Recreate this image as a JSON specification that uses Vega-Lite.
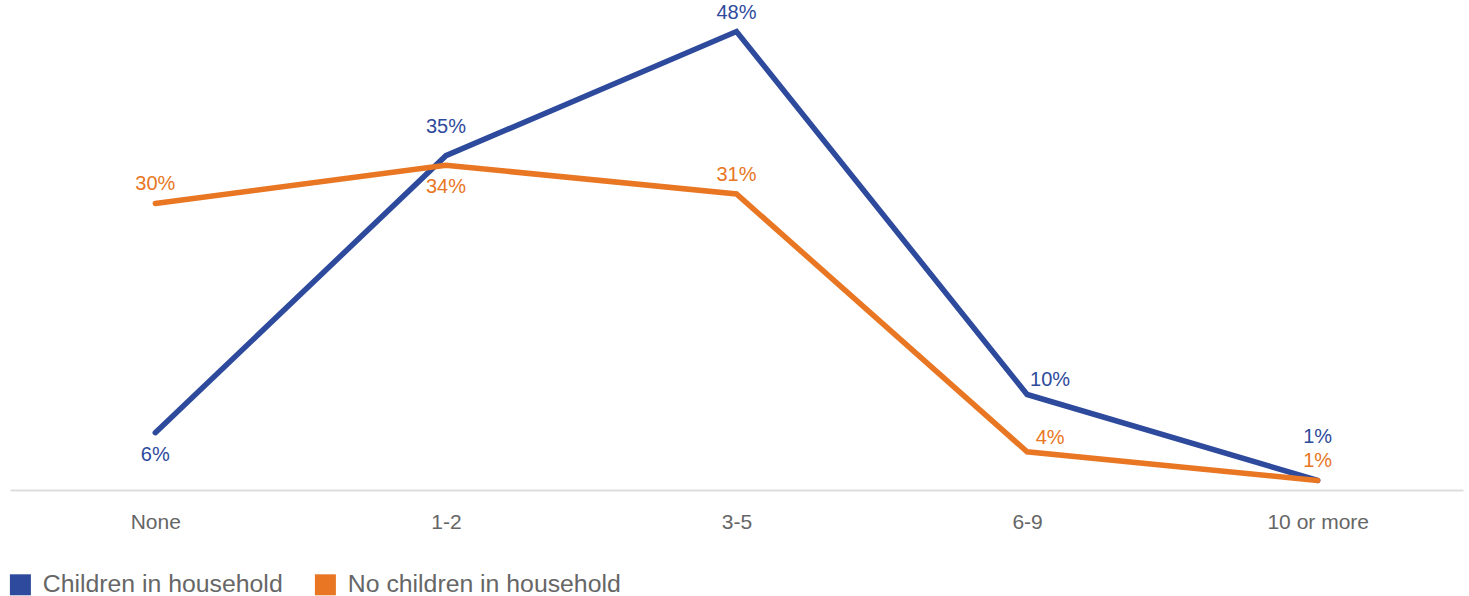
{
  "$schema": "https://vega.github.io/schema/vega-lite/v6.json",
  "width": 1453,
  "height": 490,
  "autosize": "none",
  "padding": {"left": 10, "top": 0, "right": 6, "bottom": 106},
  "background": "white",
  "config": {
    "view": {"stroke": null},
    "font": "Liberation Sans",
    "text": {"font": "Liberation Sans"}
  },
  "data": {
    "values": [
      {"cat": "None", "series": "Children in household", "value": 0.06},
      {"cat": "1-2", "series": "Children in household", "value": 0.35},
      {"cat": "3-5", "series": "Children in household", "value": 0.48},
      {"cat": "6-9", "series": "Children in household", "value": 0.10},
      {"cat": "10 or more", "series": "Children in household", "value": 0.01},
      {"cat": "None", "series": "No children in household", "value": 0.30},
      {"cat": "1-2", "series": "No children in household", "value": 0.34},
      {"cat": "3-5", "series": "No children in household", "value": 0.31},
      {"cat": "6-9", "series": "No children in household", "value": 0.04},
      {"cat": "10 or more", "series": "No children in household", "value": 0.01}
    ]
  },
  "encoding": {
    "x": {
      "field": "cat", "type": "nominal",
      "sort": ["None", "1-2", "3-5", "6-9", "10 or more"],
      "scale": {"type": "point", "padding": 0.5},
      "axis": {
        "title": null, "labelAngle": 0, "ticks": false,
        "domainColor": "#dddddd", "domainWidth": 2,
        "labelColor": "#666666", "labelFontSize": 21, "labelPadding": 32,
        "labelFont": "Liberation Sans", "labelBaseline": "middle"
      }
    },
    "y": {
      "field": "value", "type": "quantitative",
      "scale": {"domain": [0, 0.513], "nice": false, "zero": true},
      "axis": null
    },
    "color": {
      "field": "series", "type": "nominal",
      "scale": {"domain": ["Children in household", "No children in household"], "range": ["#2d4a9c", "#e87623"]},
      "legend": {
        "title": null, "orient": "none", "direction": "horizontal",
        "legendX": -2, "legendY": 572,
        "symbolType": "square", "symbolSize": 441, "symbolStrokeWidth": 0, "symbolOpacity": 1,
        "labelFontSize": 24.8, "labelColor": "#666666", "labelFont": "Liberation Sans",
        "labelOffset": 10, "columnPadding": 30, "labelLimit": 400
      }
    }
  },
  "layer": [
    {
      "mark": {"type": "line", "strokeWidth": 5.5, "strokeCap": "round", "strokeJoin": "miter"}
    },
    {
      "transform": [{"filter": "(datum.series == 'Children in household' && datum.cat == '3-5') || (datum.series == 'No children in household' && (datum.cat == 'None' || datum.cat == '3-5' || datum.cat == '10 or more'))"}],
      "mark": {"type": "text", "fontSize": 20, "baseline": "middle", "dy": -19},
      "encoding": {"text": {"field": "value", "type": "quantitative", "format": ".0%"}}
    },
    {
      "transform": [{"filter": "datum.series == 'Children in household' && datum.cat == '1-2'"}],
      "mark": {"type": "text", "fontSize": 20, "baseline": "middle", "dy": -29},
      "encoding": {"text": {"field": "value", "type": "quantitative", "format": ".0%"}}
    },
    {
      "transform": [{"filter": "datum.series == 'Children in household' && datum.cat == '10 or more'"}],
      "mark": {"type": "text", "fontSize": 20, "baseline": "middle", "dy": -43},
      "encoding": {"text": {"field": "value", "type": "quantitative", "format": ".0%"}}
    },
    {
      "transform": [{"filter": "datum.cat == '6-9'"}],
      "mark": {"type": "text", "fontSize": 20, "baseline": "middle", "dx": 23, "dy": -14},
      "encoding": {"text": {"field": "value", "type": "quantitative", "format": ".0%"}}
    },
    {
      "transform": [{"filter": "(datum.series == 'Children in household' && datum.cat == 'None') || (datum.series == 'No children in household' && datum.cat == '1-2')"}],
      "mark": {"type": "text", "fontSize": 20, "baseline": "middle", "dy": 22},
      "encoding": {"text": {"field": "value", "type": "quantitative", "format": ".0%"}}
    }
  ]
}
